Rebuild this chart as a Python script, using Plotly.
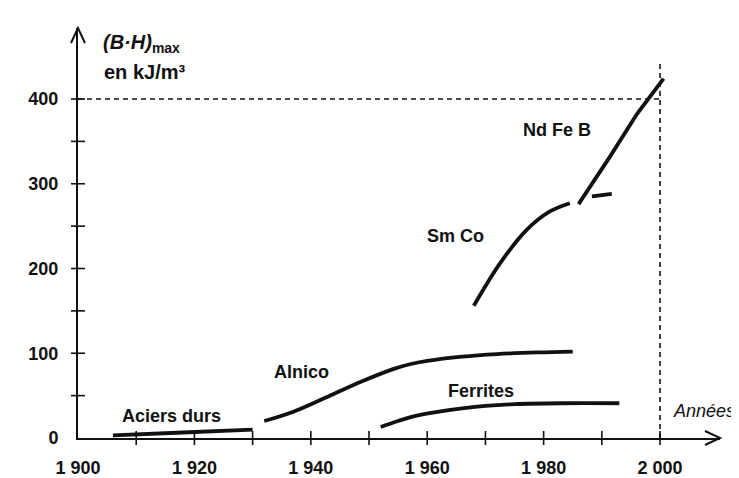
import plotly.graph_objects as go

# ---- data ----
aciers_years = [1906, 1918, 1930]
aciers_vals = [3, 6.5, 10]

alnico_years = [1932, 1937, 1943, 1948.5, 1954, 1957, 1960, 1966, 1972, 1979, 1985]
alnico_vals = [20, 31, 49, 66, 81, 87, 91, 96, 99, 101, 102]

ferrites_years = [1952, 1955, 1958, 1962, 1966, 1970, 1975, 1983, 1993]
ferrites_vals = [13, 20, 26, 31, 35, 38, 40, 41, 41]

smco_years = [1968, 1972.5, 1977, 1981, 1984.5]
smco_vals = [156, 206, 245, 267, 277]

ndfeb_years = [1986, 1991.4, 1996, 2000.6]
ndfeb_vals = [276, 332, 382, 424]

ndfeb_dash_years = [1988.3, 1991.7]
ndfeb_dash_vals = [285, 288]

ref_year = 2000
ref_val = 400
ref_top = 444

x_tick_marks = [1910, 1920, 1930, 1940, 1950, 1960, 1970, 1980, 1990, 2000]
y_tick_marks = [50, 100, 150, 200, 250, 300, 350, 400]
x_label_vals = [1900, 1920, 1940, 1960, 1980, 2000]
x_label_text = ["1 900", "1 920", "1 940", "1 960", "1 980", "2 000"]
y_label_vals = [0, 100, 200, 300, 400]
y_label_text = ["0", "100", "200", "300", "400"]

X_MIN, X_MAX = 1900, 2010.3
Y_MIN, Y_MAX = 0, 483.8

# the page body has an 8px margin; size the figure so it fills the window
OFF = 8
W, H = 739 - OFF, 478 - OFF
PLOT_L, PLOT_R, PLOT_T, PLOT_B = 78, 720, 28, 438   # absolute window pixels
L, R, T, B = PLOT_L - OFF, 739 - PLOT_R, PLOT_T - OFF, 478 - PLOT_B
PW, PH = W - L - R, H - T - B

FONT = "Liberation Sans"
INK = "#111111"

fig = go.Figure()

# dashed guide lines
fig.add_trace(go.Scatter(x=[X_MIN, ref_year], y=[ref_val, ref_val], mode="lines",
                         line=dict(color=INK, width=1.6, dash="5px,4px"),
                         hoverinfo="skip", showlegend=False, cliponaxis=False))
fig.add_trace(go.Scatter(x=[ref_year, ref_year], y=[Y_MIN, ref_top], mode="lines",
                         line=dict(color=INK, width=1.6, dash="5px,4px"),
                         hoverinfo="skip", showlegend=False, cliponaxis=False))

# curves
curves = [(aciers_years, aciers_vals, "spline"), (alnico_years, alnico_vals, "spline"),
          (ferrites_years, ferrites_vals, "spline"), (smco_years, smco_vals, "spline"),
          (ndfeb_years, ndfeb_vals, "linear"), (ndfeb_dash_years, ndfeb_dash_vals, "linear")]
for xs, ys, shp in curves:
    fig.add_trace(go.Scatter(x=xs, y=ys, mode="lines",
                             line=dict(color=INK, width=3.8, shape=shp),
                             hoverinfo="skip", showlegend=False, cliponaxis=False))

# crossing tick marks
fig.add_trace(go.Scatter(x=x_tick_marks, y=[0] * len(x_tick_marks), mode="markers",
                         marker=dict(symbol="line-ns", size=10, line=dict(color=INK, width=1.6)),
                         hoverinfo="skip", showlegend=False, cliponaxis=False))
fig.add_trace(go.Scatter(x=[X_MIN] * len(y_tick_marks), y=y_tick_marks, mode="markers",
                         marker=dict(symbol="line-ew", size=10, line=dict(color=INK, width=1.6)),
                         hoverinfo="skip", showlegend=False, cliponaxis=False))

# labels
def label(text, x, y, xanchor="center", size=18, italic=False, bold=True):
    t = text
    if bold:
        t = f"<b>{t}</b>"
    if italic:
        t = f"<i>{t}</i>"
    fig.add_annotation(x=x, y=y, text=t,
                       showarrow=False, xanchor=xanchor, yanchor="middle",
                       font=dict(family=FONT, size=size, color=INK))

label("Aciers durs", 1916.0, 26.5)
label("Alnico", 1938.4, 77.3)
label("Ferrites", 1969.2, 56)
label("Sm Co", 1964.8, 238)
label("Nd Fe B", 1982.3, 363)
label("Années", 2001.8, 32, xanchor="left", italic=True, bold=False, size=18)

def px_to_paper(px, py):
    return (px - PLOT_L) / PW, (PLOT_B - py) / PH

ax_, ay_ = px_to_paper(101, 43)
fig.add_annotation(xref="paper", yref="paper", x=ax_, y=ay_,
                   text="<b><i>(B·H)</i></b><sub><b>max</b></sub>", showarrow=False,
                   xanchor="left", yanchor="middle", font=dict(family=FONT, size=20, color=INK))
ax_, ay_ = px_to_paper(102, 72)
fig.add_annotation(xref="paper", yref="paper", x=ax_, y=ay_,
                   text="<b>en kJ/m³</b>", showarrow=False,
                   xanchor="left", yanchor="middle", font=dict(family=FONT, size=20, color=INK))

# arrow heads (open chevrons) at the axis ends, in paper coords
fig.add_shape(type="path", xref="paper", yref="paper",
              path=f"M {1 - 15 / PW},{7 / PH} L 1,0 L {1 - 15 / PW},{-7 / PH}",
              line=dict(color=INK, width=2))
fig.add_shape(type="path", xref="paper", yref="paper",
              path=f"M {-7 / PW},{1 - 15 / PH} L 0,1 L {7 / PW},{1 - 15 / PH}",
              line=dict(color=INK, width=2))

fig.update_layout(
    width=W, height=H,
    margin=dict(l=L, r=R, t=T, b=B, autoexpand=False),
    paper_bgcolor="white", plot_bgcolor="white",
    showlegend=False,
    xaxis=dict(range=[X_MIN, X_MAX], showgrid=False, zeroline=False, automargin=False,
               showline=True, linecolor=INK, linewidth=2,
               tickmode="array", tickvals=x_label_vals, ticktext=[f"<b>{t}</b>" for t in x_label_text],
               ticks="", ticklabelstandoff=12,
               tickfont=dict(family=FONT, size=18, color=INK)),
    yaxis=dict(range=[Y_MIN, Y_MAX], showgrid=False, zeroline=False, automargin=False,
               showline=True, linecolor=INK, linewidth=2,
               tickmode="array", tickvals=y_label_vals, ticktext=[f"<b>{t}</b>" for t in y_label_text],
               ticks="", ticklabelstandoff=14,
               tickfont=dict(family=FONT, size=18, color=INK)),
)

fig.write_html("out.html")
